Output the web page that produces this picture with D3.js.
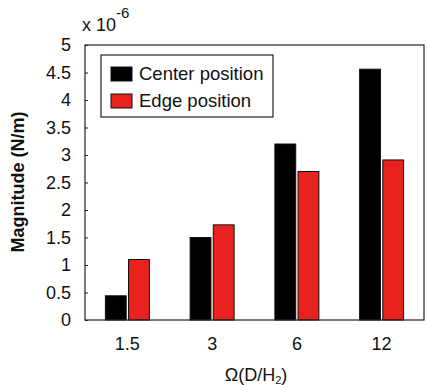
<!DOCTYPE html>
<html>
<head>
<meta charset="utf-8">
<script src="https://cdn.jsdelivr.net/npm/d3@7"></script>
<style>
  html, body { margin: 0; padding: 0; background: #fff; }
  svg { display: block; font-family: "Liberation Sans", Arial, sans-serif; }
</style>
</head>
<body>
<svg id="chart" width="427" height="385"></svg>
<script>
// Force magnitude (x 10^-6 N/m) at each gas ratio
const categories = ["1.5", "3", "6", "12"];
const seriesNames = ["Center position", "Edge position"];
const centerValues = [0.44, 1.50, 3.20, 4.56];
const edgeValues = [1.10, 1.73, 2.70, 2.91];
const seriesColors = ["#000000", "#e8221e"];
const yTicks = [0, 0.5, 1, 1.5, 2, 2.5, 3, 3.5, 4, 4.5, 5];

const svg = d3.select("#chart");
const margin = { left: 85, right: 3, top: 45, bottom: 65 };
const W = 427, H = 385;
const plotW = W - margin.left - margin.right;
const plotH = H - margin.top - margin.bottom;

const g = svg.append("g").attr("transform", `translate(${margin.left},${margin.top})`);

const x0 = d3.scaleBand().domain(categories).range([0, plotW]).padding(0);
const groupW = 44;
const x1 = d3.scaleBand().domain(seriesNames).range([0, groupW]).paddingInner(0.1);
const y = d3.scaleLinear().domain([0, 5]).range([plotH, 0]);

const rows = categories.map((c, i) => ({ cat: c, vals: [centerValues[i], edgeValues[i]] }));

// bars
const grp = g.selectAll(".grp").data(rows).join("g")
  .attr("transform", d => `translate(${x0(d.cat) + x0.bandwidth() / 2 - groupW / 2},0)`);
grp.selectAll("rect").data(d => d.vals.map((v, k) => ({ v, k })))
  .join("rect")
  .attr("x", d => x1(seriesNames[d.k]))
  .attr("width", x1.bandwidth())
  .attr("y", d => y(d.v))
  .attr("height", d => plotH - y(d.v))
  .attr("fill", d => seriesColors[d.k])
  .attr("stroke", "#111")
  .attr("stroke-width", 1);

// frame
g.append("rect").attr("x", 0).attr("y", 0).attr("width", plotW).attr("height", plotH)
  .attr("fill", "none").attr("stroke", "#222").attr("stroke-width", 1.2);

// y axis with inward ticks
const yAxis = g.append("g").call(
  d3.axisLeft(y).tickValues(yTicks).tickSizeInner(-3).tickSizeOuter(0).tickPadding(14)
    .tickFormat(d => d3.format("~g")(d))
);
yAxis.select(".domain").remove();
yAxis.selectAll("line").attr("stroke", "#222");
yAxis.selectAll("text").attr("font-size", 18).attr("fill", "#111")
  .attr("font-family", "'Liberation Sans', Arial, sans-serif");

// x axis labels
const xAxis = g.append("g").attr("transform", `translate(0,${plotH})`).call(
  d3.axisBottom(x0).tickSize(0).tickPadding(17)
);
xAxis.select(".domain").remove();
xAxis.selectAll("text").attr("font-size", 18).attr("fill", "#111")
  .attr("font-family", "'Liberation Sans', Arial, sans-serif");

// exponent label
const expo = svg.append("text").attr("x", 82).attr("y", 31).attr("font-size", 18).attr("fill", "#111");
expo.append("tspan").text("x 10");
expo.append("tspan").attr("dy", -13).attr("font-size", 15).text("-6");

// axis titles
svg.append("text")
  .attr("transform", "translate(24,182) rotate(-90)")
  .attr("text-anchor", "middle")
  .attr("font-size", 18).attr("font-weight", "bold").attr("fill", "#111")
  .text("Magnitude (N/m)");

const xt = svg.append("text").attr("x", 256).attr("y", 381).attr("text-anchor", "middle")
  .attr("font-size", 18).attr("fill", "#111");
xt.append("tspan").text("Ω(D/H");
xt.append("tspan").attr("font-size", 11).attr("dy", 3).text("2");
xt.append("tspan").attr("dy", -3).text(")");

// legend
const lg = svg.append("g").attr("transform", "translate(101,55)");
lg.append("rect").attr("width", 172).attr("height", 62)
  .attr("fill", "#fff").attr("stroke", "#222").attr("stroke-width", 1.2);
seriesNames.forEach((name, i) => {
  const row = lg.append("g").attr("transform", `translate(10,${12 + i * 27})`);
  row.append("rect").attr("width", 21).attr("height", 14)
    .attr("fill", seriesColors[i]).attr("stroke", "#111");
  row.append("text").attr("x", 28).attr("y", 12.5).attr("font-size", 18.5).attr("fill", "#111").text(name);
});
</script>
</body>
</html>
